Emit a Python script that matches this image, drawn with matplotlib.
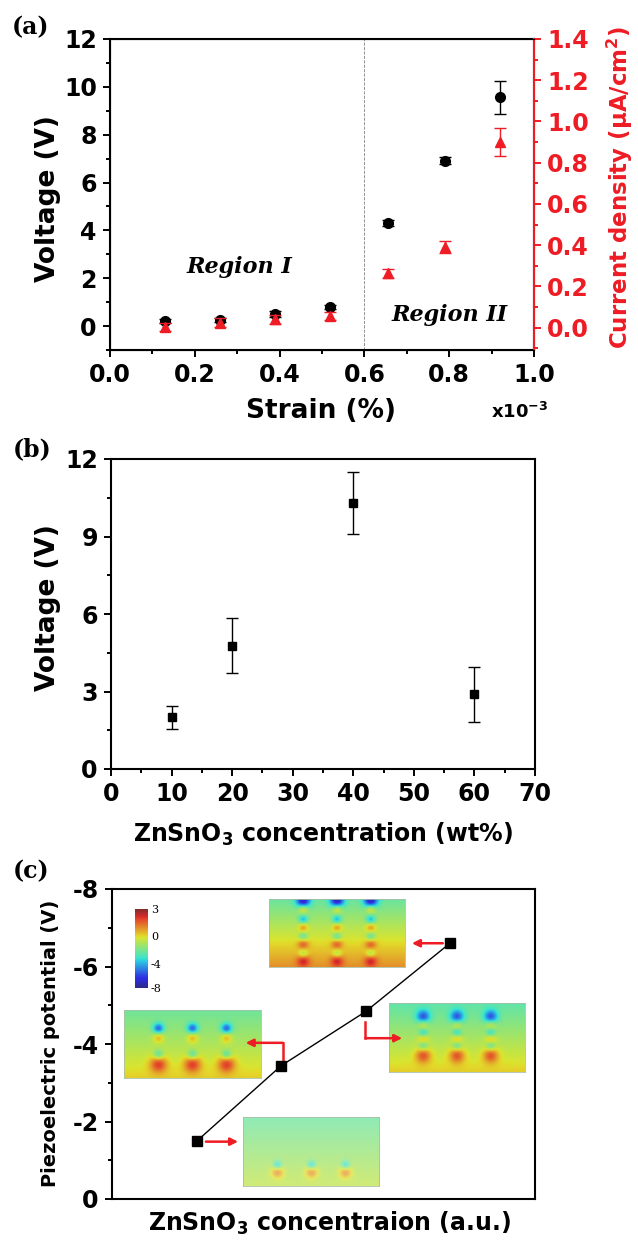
import numpy as np
import matplotlib.pyplot as plt
from matplotlib.colors import ListedColormap
from matplotlib.ticker import MultipleLocator, NullLocator

plt.rcParams['font.family'] = ['DejaVu Sans']
plt.rcParams['font.weight'] = 'bold'
plt.rcParams['mathtext.fontset'] = 'custom'
plt.rcParams['mathtext.rm'] = 'DejaVu Sans:bold'
plt.rcParams['mathtext.bf'] = 'DejaVu Sans:bold'
plt.rcParams['mathtext.default'] = 'bf'

# (a) strain vs voltage / current density
strain = [0.13, 0.26, 0.39, 0.52, 0.655, 0.79, 0.92]
voltage_a = [0.22, 0.26, 0.52, 0.80, 4.31, 6.91, 9.56]
voltage_a_err = [0.08, 0.08, 0.12, 0.1, 0.11, 0.14, 0.68]
current = [0.005, 0.025, 0.04, 0.055, 0.263, 0.39, 0.90]
current_err = [0.02, 0.02, 0.02, 0.02, 0.021, 0.028, 0.068]

# (b) concentration vs voltage
conc = [10, 20, 40, 60]
voltage_b = [2.0, 4.77, 10.3, 2.89]
voltage_b_err = [0.45, 1.07, 1.2, 1.06]

# (c) simulated piezo potential
level = [0.2, 0.4, 0.6, 0.8]
potential = [-1.49, -3.44, -4.84, -6.61]
cbar_labels = ['3', '0', '-4', '-8']

W, H = 638, 1243
RED = '#ee1c24'
TICK = 17
fig = plt.figure(figsize=(W / 100, H / 100), dpi=100)

# muted jet, like the simulation snapshots
jet = plt.get_cmap('jet')(np.linspace(0, 1, 256))[:, :3]
muted = ListedColormap(jet * 0.72 + 0.28 * np.array([0.62, 0.63, 0.6]))


def px(l, t, r, b):
    return [l / W, 1 - b / H, (r - l) / W, (b - t) / H]


def ftext(x, y, s, va='center', **kw):
    fig.text(x / W, 1 - y / H, s, ha='center', va=va, **kw)


def style(ax, color='black'):
    for s in ax.spines.values():
        s.set_linewidth(1.5)
    ax.tick_params(which='both', direction='out', width=1.4, labelsize=TICK,
                   top=False, right=False, color=color, pad=4.5)
    ax.tick_params(which='major', length=5)
    ax.tick_params(which='minor', length=3)


# ---------- (a)
ax = fig.add_axes(px(110, 39, 534, 350))
style(ax)
ax.errorbar(strain, voltage_a, yerr=voltage_a_err, fmt='o', color='black',
            ms=7, capsize=4, elinewidth=1, capthick=1, zorder=3)
ax.axvline(0.6, color='gray', ls='--', lw=0.6)
ax.set_xlim(0, 1.0)
ax.set_ylim(-1, 12)
ax.xaxis.set_major_locator(MultipleLocator(0.2))
ax.xaxis.set_minor_locator(MultipleLocator(0.1))
ax.yaxis.set_major_locator(MultipleLocator(2))
ax.yaxis.set_minor_locator(MultipleLocator(1))
ax.set_xticklabels([f'{v:.1f}' for v in ax.get_xticks()])
ax.set_xlim(0, 1.0)
ax.text(0.304, 2.47, 'Region I', family='DejaVu Serif', style='italic',
        weight='bold', fontsize=16, ha='center', va='center')
ax.text(0.80, 0.46, 'Region II', family='DejaVu Serif', style='italic',
        weight='bold', fontsize=16, ha='center', va='center')

ax2 = ax.twinx()
ax2.errorbar(strain, current, yerr=current_err, fmt='^', color=RED,
             ms=7, capsize=4, elinewidth=1, capthick=1, zorder=3)
ax2.set_ylim(-0.1083, 1.4)
ax2.yaxis.set_major_locator(MultipleLocator(0.2))
ax2.yaxis.set_minor_locator(MultipleLocator(0.1))
ax2.spines['right'].set_color(RED)
ax2.spines['right'].set_linewidth(1.5)
ax2.tick_params(which='both', direction='out', width=1.4, labelsize=TICK,
                colors=RED, pad=4.5)
ax2.tick_params(which='major', length=5)
ax2.tick_params(which='minor', length=3)
ax2.set_yticklabels([f'{v:.1f}' for v in ax2.get_yticks()])
ax2.set_ylim(-0.1083, 1.4)

ftext(48, 199, 'Voltage (V)', rotation=90, fontsize=19)
ftext(620, 187, 'Current density (μA/cm$^2$)', rotation=90, fontsize=16.5,
      color=RED)
ftext(321, 418, 'Strain (%)', va='baseline', fontsize=19)
ftext(520, 418, 'x10$^{-3}$', va='baseline', fontsize=13)
ftext(30, 27, '(a)', family='DejaVu Serif', fontsize=17)

# ---------- (b)
bx = fig.add_axes(px(111, 459, 535, 769))
style(bx)
bx.errorbar(conc, voltage_b, yerr=voltage_b_err, fmt='s', color='black',
            ms=6, capsize=4, elinewidth=1, capthick=1)
bx.set_xlim(0, 70)
bx.set_ylim(0, 12)
bx.xaxis.set_major_locator(MultipleLocator(10))
bx.xaxis.set_minor_locator(MultipleLocator(5))
bx.yaxis.set_major_locator(MultipleLocator(3))
bx.yaxis.set_minor_locator(MultipleLocator(1.5))
ftext(48, 608, 'Voltage (V)', rotation=90, fontsize=19)
ftext(323, 842, 'ZnSnO$_3$ concentration (wt%)', va='baseline', fontsize=17)
ftext(32, 449, '(b)', family='DejaVu Serif', fontsize=17)

# ---------- (c)
cx = fig.add_axes(px(112, 889, 535, 1199))
style(cx)
cx.patch.set_visible(False)
cx.plot(level, potential, '-', color='black', lw=1, marker='s', ms=7.5,
        zorder=5)
cx.set_xlim(0, 1)
cx.set_ylim(0, -8)
cx.yaxis.set_major_locator(MultipleLocator(2))
cx.yaxis.set_minor_locator(MultipleLocator(1))
cx.xaxis.set_major_locator(NullLocator())
cx.set_yticklabels([f'{int(v)}' for v in cx.get_yticks()])
cx.set_ylim(0, -8)
ftext(51, 1043, 'Piezoelectric potential (V)', rotation=90, fontsize=14)
ftext(329, 1231, 'ZnSnO$_3$ concentraion (a.u.)', va='baseline', fontsize=17)
ftext(31, 871, '(c)', family='DejaVu Serif', fontsize=17)


def field(top, bottom, dipoles, nx=136, ny=68):
    yy, xx = np.mgrid[0:ny, 0:nx]
    yy = yy / (ny - 1)
    xx = xx / (nx - 1)
    f = top + (bottom - top) * yy
    for xc in (0.25, 0.5, 0.75):
        for yn, yp, an, ap, rn, rp in dipoles:
            f -= an * np.exp(-(((xx - xc) * nx) ** 2 + ((yy - yn) * ny) ** 2) / (2 * rn * rn))
            f += ap * np.exp(-(((xx - xc) * nx) ** 2 + ((yy - yp) * ny) ** 2) / (2 * rp * rp))
    return f


# (box px, top value, bottom value, dipoles, alpha)
insets = [
    ((269, 899, 405, 967), -3.0, 0.4,
     [(0.02, 0.14, 4.5, 2.0, 5, 3.5), (0.3, 0.41, 2.5, 1.8, 3.5, 3.5),
      (0.56, 0.66, 2.0, 2.0, 3.5, 4), (0.81, 0.91, 1.8, 2.2, 3.5, 4.5)], 1.0),
    ((124, 1010, 261, 1078), -2.9, -0.6,
     [(0.27, 0.40, 3.5, 1.8, 4, 4), (0.66, 0.8, 2.2, 2.8, 3.5, 6)], 1.0),
    ((389, 1003, 525, 1072), -3.2, -0.6,
     [(0.2, 0.31, 3.5, 1.8, 5, 4), (0.43, 0.52, 2.2, 1.8, 3.5, 4),
      (0.62, 0.76, 2.0, 2.6, 3.5, 5.5)], 1.0),
    ((243, 1117, 379, 1186), -3.0, -1.4,
     [(0.70, 0.8, 2.6, 2.2, 3, 4.5)], 0.75),
]
for box, top, bottom, dip, alpha in insets:
    ia = fig.add_axes(px(*box), zorder=-1)
    ia.imshow(field(top, bottom, dip), cmap=muted, vmin=-8, vmax=3,
              aspect='auto', alpha=alpha, interpolation='bilinear')
    ia.set_xticks([])
    ia.set_yticks([])
    for s in ia.spines.values():
        s.set_color('#a8c0a8')
        s.set_linewidth(0.6)

cb = fig.add_axes(px(135, 909, 148, 988), zorder=-1)
cb.imshow(np.linspace(3, -8, 100)[:, None], cmap=muted, aspect='auto',
          extent=[0, 1, 0, 1])
cb.set_xticks([])
cb.yaxis.tick_right()
cb.set_yticks([1.0, 0.66, 0.31, 0.0])
cb.set_yticklabels(cbar_labels, family='DejaVu Serif', fontsize=8,
                   weight='normal')
cb.tick_params(length=0, pad=2)
cb.set_ylim(0, 1)
for s in cb.spines.values():
    s.set_visible(False)

# red arrows
arrow = dict(arrowstyle='-|>', color=RED, lw=1.8, mutation_scale=11,
             shrinkA=0, shrinkB=0)
cx.annotate('', xy=(0.709, -6.6), xytext=(0.782, -6.6), arrowprops=arrow)
cx.plot([0.404, 0.404], [-3.57, -4.03], color=RED, lw=1.8)
cx.annotate('', xy=(0.316, -4.03), xytext=(0.404, -4.03), arrowprops=arrow)
cx.plot([0.599, 0.599], [-4.57, -4.15], color=RED, lw=1.8)
cx.annotate('', xy=(0.686, -4.15), xytext=(0.599, -4.15), arrowprops=arrow)
cx.annotate('', xy=(0.298, -1.48), xytext=(0.222, -1.48), arrowprops=arrow)

fig.savefig('out.png', dpi=100)
